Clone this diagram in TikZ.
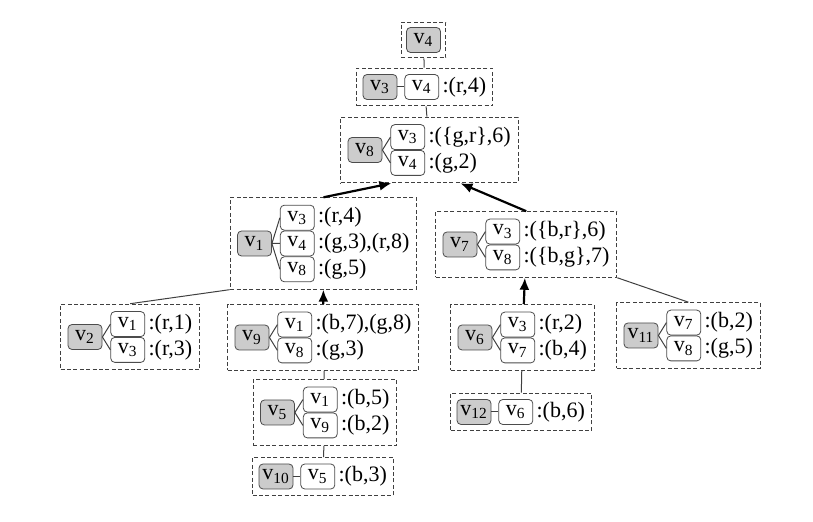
\documentclass[tikz,border=0pt]{standalone}
\usepackage{fontspec}
\setmainfont{Liberation Serif}
\usetikzlibrary{positioning, arrows.meta, fit, calc}

\begin{document}
\begin{tikzpicture}[
    x=0.5pt, y=-0.5pt,
    font=\fontsize{11}{13}\selectfont,
    hub/.style={draw=black!70, fill=black!20, rounded corners=2pt, minimum width=17pt, minimum height=12.5pt, inner sep=0pt},
    leaf/.style={draw=black!70, fill=white, rounded corners=2pt, minimum width=17pt, minimum height=12.5pt, inner sep=0pt},
    lbl/.style={inner sep=0pt},
    grpbox/.style={draw=black!75, dash pattern=on 2pt off 1.2pt, line width=0.5pt, inner sep=3.5pt},
    link/.style={draw=black!75, line width=0.5pt},
    arrow/.style={-{Latex[length=6pt, width=5pt]}, line width=1.1pt}
]
\useasboundingbox (0,0) rectangle (813,522);

% Level 0
\node (v4) [hub] at (423.5,40) {v\textsubscript{4}};
\node (g4) [grpbox, inner sep=2.5pt, fit=(v4)] {};

% Level 1
\node (v3) [hub] at (380,87) {v\textsubscript{3}};
\node (v3a) [leaf, right=3.5pt of v3] {v\textsubscript{4}};
\node (v3p) [lbl, right=1.5pt of v3a] {:(r,4)};
\draw [link] (v3) -- (v3a);
\node (g3) [grpbox, inner sep=3pt, fit=(v3) (v3a) (v3p)] {};

% Level 2
\node (v8) [hub] at (365,150) {v\textsubscript{8}};
\node (v8a) [leaf, above right=0pt and 4pt of v8.east] {v\textsubscript{3}};
\node (v8b) [leaf, below=0pt of v8a] {v\textsubscript{4}};
\node (v8p) [lbl, right=1.5pt of v8a] {:(\{g,r\},6)};
\node (v8q) [lbl, right=1.5pt of v8b] {:(g,2)};
\draw [link] (v8.east) -- (v8a.west) (v8.east) -- (v8b.west);
\node (g8) [grpbox, fit=(v8) (v8a) (v8b) (v8p) (v8q)] {};

% Level 3
\node (v1) [hub] at (254.5,243.5) {v\textsubscript{1}};
\node (v1b) [leaf, right=4pt of v1] {v\textsubscript{4}};
\node (v1a) [leaf, above=0pt of v1b] {v\textsubscript{3}};
\node (v1c) [leaf, below=0pt of v1b] {v\textsubscript{8}};
\node (v1p) [lbl, right=1.5pt of v1a] {:(r,4)};
\node (v1q) [lbl, right=1.5pt of v1b] {:(g,3),(r,8)};
\node (v1r) [lbl, right=1.5pt of v1c] {:(g,5)};
\draw [link] (v1.east) -- (v1a.west) (v1.east) -- (v1b.west) (v1.east) -- (v1c.west);
\node (g1) [grpbox, fit=(v1) (v1a) (v1c) (v1q)] {};

\node (v7) [hub] at (460,244.5) {v\textsubscript{7}};
\node (v7a) [leaf, above right=0pt and 4pt of v7.east] {v\textsubscript{3}};
\node (v7b) [leaf, below=0pt of v7a] {v\textsubscript{8}};
\node (v7p) [lbl, right=1.5pt of v7a] {:(\{b,r\},6)};
\node (v7q) [lbl, right=1.5pt of v7b] {:(\{b,g\},7)};
\draw [link] (v7.east) -- (v7a.west) (v7.east) -- (v7b.west);
\node (g7) [grpbox, fit=(v7) (v7a) (v7b) (v7p) (v7q)] {};

% Level 4
\node (v2) [hub] at (85,337) {v\textsubscript{2}};
\node (v2a) [leaf, above right=0pt and 4pt of v2.east] {v\textsubscript{1}};
\node (v2b) [leaf, below=0pt of v2a] {v\textsubscript{3}};
\node (v2p) [lbl, right=1.5pt of v2a] {:(r,1)};
\node (v2q) [lbl, right=1.5pt of v2b] {:(r,3)};
\draw [link] (v2.east) -- (v2a.west) (v2.east) -- (v2b.west);
\node (g2) [grpbox, fit=(v2) (v2a) (v2b) (v2p) (v2q)] {};

\node (v9) [hub] at (252,337.5) {v\textsubscript{9}};
\node (v9a) [leaf, above right=0pt and 4pt of v9.east] {v\textsubscript{1}};
\node (v9b) [leaf, below=0pt of v9a] {v\textsubscript{8}};
\node (v9p) [lbl, right=1.5pt of v9a] {:(b,7),(g,8)};
\node (v9q) [lbl, right=1.5pt of v9b] {:(g,3)};
\draw [link] (v9.east) -- (v9a.west) (v9.east) -- (v9b.west);
\node (g9) [grpbox, fit=(v9) (v9a) (v9b) (v9p) (v9q)] {};

\node (v6) [hub] at (475,337.5) {v\textsubscript{6}};
\node (v6a) [leaf, above right=0pt and 4pt of v6.east] {v\textsubscript{3}};
\node (v6b) [leaf, below=0pt of v6a] {v\textsubscript{7}};
\node (v6p) [lbl, right=1.5pt of v6a] {:(r,2)};
\node (v6q) [lbl, right=1.5pt of v6b] {:(b,4)};
\draw [link] (v6.east) -- (v6a.west) (v6.east) -- (v6b.west);
\node (g6) [grpbox, fit=(v6) (v6a) (v6b) (v6p) (v6q)] {};

\node (v11) [hub] at (641,335.5) {v\textsubscript{11}};
\node (v11a) [leaf, above right=0pt and 4pt of v11.east] {v\textsubscript{7}};
\node (v11b) [leaf, below=0pt of v11a] {v\textsubscript{8}};
\node (v11p) [lbl, right=1.5pt of v11a] {:(b,2)};
\node (v11q) [lbl, right=1.5pt of v11b] {:(g,5)};
\draw [link] (v11.east) -- (v11a.west) (v11.east) -- (v11b.west);
\node (g11) [grpbox, fit=(v11) (v11a) (v11b) (v11p) (v11q)] {};

% Level 5
\node (v5) [hub] at (277.5,412.5) {v\textsubscript{5}};
\node (v5a) [leaf, above right=0pt and 4pt of v5.east] {v\textsubscript{1}};
\node (v5b) [leaf, below=0pt of v5a] {v\textsubscript{9}};
\node (v5p) [lbl, right=1.5pt of v5a] {:(b,5)};
\node (v5q) [lbl, right=1.5pt of v5b] {:(b,2)};
\draw [link] (v5.east) -- (v5a.west) (v5.east) -- (v5b.west);
\node (g5) [grpbox, fit=(v5) (v5a) (v5b) (v5p) (v5q)] {};

\node (v12) [hub] at (474,412) {v\textsubscript{12}};
\node (v12a) [leaf, right=3.5pt of v12] {v\textsubscript{6}};
\node (v12p) [lbl, right=1.5pt of v12a] {:(b,6)};
\draw [link] (v12) -- (v12a);
\node (g12) [grpbox, inner sep=3pt, fit=(v12) (v12a) (v12p)] {};

% Level 6
\node (v10) [hub] at (276,476.5) {v\textsubscript{10}};
\node (v10a) [leaf, right=3.5pt of v10] {v\textsubscript{5}};
\node (v10p) [lbl, right=1.5pt of v10a] {:(b,3)};
\draw [link] (v10) -- (v10a);
\node (g10) [grpbox, inner sep=3pt, fit=(v10) (v10a) (v10p)] {};

% Connections
\draw [link] (g4) -- (g3);
\draw [link] (g3) -- (g8);
\draw [arrow] (g1.north) -- ($(g8.south)+(-19pt,0)$);
\draw [arrow] (g7.north) -- ($(g8.south)+(15.5pt,0)$);
\draw [link] (g2.north) -- (g1.south west);
\draw [arrow] (g9) -- (g1);
\draw [arrow] (g6) -- (g7);
\draw [link] (g11.north) -- (g7.south east);
\draw [link] (g9) -- (g5);
\draw [link] (g5) -- (g10);
\draw [link] (g6) -- (g12);

\end{tikzpicture}
\end{document}
